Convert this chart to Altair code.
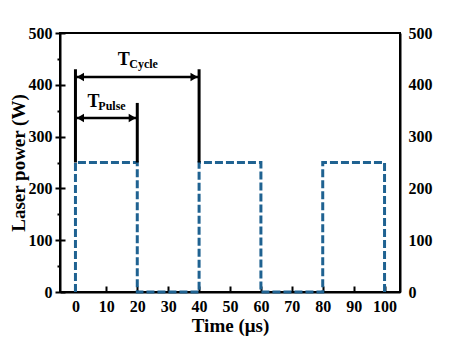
import altair as alt
import pandas as pd

# pulse waveform
wave_t = [0, 0, 20, 20, 40, 40, 60, 60, 80, 80, 100, 100]
wave_p = [0, 250, 250, 0, 0, 250, 250, 0, 0, 250, 250, 0]

# vertical marker lines
vl_x = [0, 20, 40]
vl_y0 = [250, 250, 250]
vl_y1 = [430, 365, 430]

# double arrows
arr_x0 = [0, 0]
arr_x1 = [40, 20]
arr_y = [415, 336]
head_dx = 1.6

# labels
lab_T_x = [15.6, 5.8]
lab_T_y = [438, 357]
lab_sub_x = [17.4, 7.4]
lab_sub_y = [432, 351]
lab_sub = ["Cycle", "Pulse"]

x_ticks = list(range(0, 101, 10))
y_ticks = list(range(0, 501, 100))
y_ticks_all = list(range(0, 501, 50))

FONT = "Liberation Serif"
W, H = 340, 259
xs = alt.Scale(domain=[-5, 105], nice=False, zero=False)
ys = alt.Scale(domain=[0, 500], nice=False)

wave = pd.DataFrame({"x": wave_t, "y": wave_p, "o": list(range(len(wave_t)))})
vls = pd.DataFrame({"x": vl_x, "y": vl_y0, "y1": vl_y1})
arrs = pd.DataFrame({"x": arr_x0, "x1": arr_x1, "y": arr_y})
heads = pd.DataFrame({
    "x": [a + head_dx for a in arr_x0] + [b - head_dx for b in arr_x1],
    "y": arr_y + arr_y,
    "s": ["triangle-left"] * 2 + ["triangle-right"] * 2,
})
labT = pd.DataFrame({"x": lab_T_x, "y": lab_T_y, "t": ["T", "T"]})
labS = pd.DataFrame({"x": lab_sub_x, "y": lab_sub_y, "t": lab_sub})

# inward ticks drawn as dashed grid lines whose only visible dash sits at the axis
x_axis = alt.Axis(
    values=x_ticks, ticks=False, labelPadding=6, labelOverlap=False,
    grid=True, gridDash=[0, H - 6, 6, 1000], gridColor="black", gridWidth=2,
    domainColor="black", domainWidth=2, titlePadding=2)
y_axis = alt.Axis(
    values=y_ticks_all, labelOverlap=False, grid=False,
    labelExpr="datum.value % 100 === 0 ? datum.label : ''",
    tickSize=alt.condition("datum.value % 100 === 0", alt.value(5), alt.value(3)),
    tickColor="black", tickWidth=2, labelPadding=3,
    domainColor="black", domainWidth=2, titlePadding=0)

X = alt.X("x:Q", scale=xs, title="Time (μs)", axis=x_axis)
Y = alt.Y("y:Q", scale=ys, title="Laser power (W)", axis=y_axis)

line = alt.Chart(wave).mark_line(
    color="#1f6291", strokeWidth=3, strokeDash=[8, 3]
).encode(x=X, y=Y, order="o:Q")

vrules = alt.Chart(vls).mark_rule(color="black", strokeWidth=3).encode(
    x=X, y=Y, y2="y1:Q",
)

arules = alt.Chart(arrs).mark_rule(color="black", strokeWidth=2.5).encode(
    x=X, x2="x1:Q", y=Y,
)

aheads = alt.Chart(heads).mark_point(filled=True, color="black", opacity=1, size=70).encode(
    x=X, y=Y, shape=alt.Shape("s:N", scale=None),
)

tT = alt.Chart(labT).mark_text(font=FONT, fontWeight="bold", fontSize=18,
                               color="black", baseline="alphabetic").encode(
    x=X, y=Y, text="t:N",
)
tS = alt.Chart(labS).mark_text(font=FONT, fontWeight="bold", fontSize=12,
                               color="black", align="left", baseline="alphabetic").encode(
    x=X, y=Y, text="t:N",
)

main = alt.layer(line, vrules, arules, aheads, tT, tS)

right = alt.Chart(wave).mark_point(opacity=0).encode(
    x=X,
    y=alt.Y("y:Q", scale=ys, axis=alt.Axis(
        orient="right", values=y_ticks, title=None, ticks=False, labelPadding=8,
        labelOverlap=False,
        grid=True, gridDash=[0, W - 5, 5, 1000], gridColor="black", gridWidth=2,
        domainColor="black", domainWidth=2)),
)

chart = alt.layer(main, right).resolve_scale(y="independent").properties(
    width=W, height=H,
    autosize=alt.AutoSizeParams(type="none"),
    padding={"left": 52, "top": 25, "right": 52, "bottom": 51},
    background="white",
).configure_view(stroke="black", strokeWidth=2).configure_axis(
    labelFont=FONT, labelFontSize=16, labelFontWeight="bold", labelColor="black",
    titleFont=FONT, titleFontSize=19, titleFontWeight="bold", titleColor="black",
)

chart.save("out.html", embed_options={"renderer": "svg", "actions": False})
